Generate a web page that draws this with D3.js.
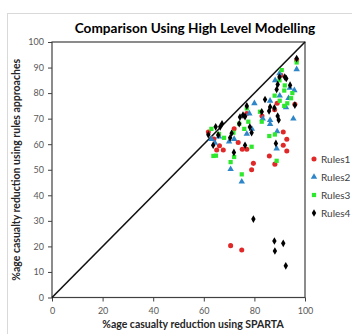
<!DOCTYPE html>
<html>
<head>
<meta charset="utf-8">
<script src="https://cdn.jsdelivr.net/npm/d3@7"></script>
<style>
  body { margin: 0; background: #fff; }
  svg { font-family: "Lato", "Open Sans", sans-serif; }
</style>
</head>
<body>
<div></div>
<script>
// values: [sparta %, rules %]
const rules1 = [
  [61.8, 64.8], [65.1, 57.7], [66.2, 59.4], [67.7, 57.7], [73.6, 60.7], [75.2, 58],
  [77, 58], [79.6, 52.5], [78.9, 50], [70.6, 20.3], [75, 18.6], [85.9, 55.4],
  [88.1, 52.2], [91.4, 64.8], [92.8, 61.9], [91.4, 59.6], [92.8, 57.3], [96, 75.6],
  [89, 76], [90.5, 87], [88, 73.5], [96.7, 93], [77, 72], [72, 66], [83, 71], [64, 62]
];
const rules2 = [
  [96.7, 89.3], [95.4, 70], [92.5, 74.4], [95.8, 81.1], [89.9, 87.7], [83.3, 70],
  [86.2, 69.4], [86.2, 67.9], [88.8, 58.3], [75, 45.3], [70.6, 50.2], [64.4, 60.5],
  [66, 63], [72, 62], [77, 64], [79, 66], [86.2, 77], [88.2, 85], [94, 82], [78, 72],
  [70, 61], [80, 76], [90, 79], [63, 62], [93.5, 78], [89, 65]
];
const rules3 = [
  [96.7, 92], [90.8, 89], [89.9, 85], [91.8, 81], [94.5, 78], [93, 76], [88, 79],
  [90, 77], [91.8, 75], [82.2, 72.7], [82.9, 68.8], [77.6, 68.8], [77, 74], [85.9, 63.2],
  [88.1, 63.8], [88.8, 53.5], [78.9, 59], [75, 48.2], [70.6, 53], [72, 55], [63.8, 55.4],
  [64.8, 55.5], [71.7, 64.5], [66, 64], [63, 66], [76, 66], [95, 80], [92, 83],
  [68, 62.5], [74, 68]
];
const rules4 = [
  [96.7, 93.5], [89.9, 86.3], [92, 86.3], [92.6, 85.7], [94.1, 83.1], [89.2, 83.4],
  [88.8, 81.4], [96, 75.3], [84.2, 77.5], [86.2, 74.6], [87.9, 74.2], [85.8, 73],
  [82.9, 72.7], [89.2, 71], [89.6, 69.5], [88.5, 60.3], [74.3, 70.6], [75.5, 71.4],
  [76.3, 70.8], [78.2, 66.7], [78.9, 64.5], [76.3, 59.6], [71.9, 56.8], [70.4, 62.5],
  [71, 64.3], [64.7, 66.8], [66.5, 66.8], [67.2, 68], [61.8, 63.7], [63.7, 59.6],
  [65.7, 63.6], [79.6, 30.7], [87.9, 22.1], [91.4, 21.2], [88.1, 18.2], [92.4, 12.4],
  [77, 75], [74, 68]
];
const seriesNames = ["Rules1", "Rules2", "Rules3", "Rules4"];
const seriesData = [rules1, rules2, rules3, rules4];
const xTicks = [0, 20, 40, 60, 80, 100];
const yTicks = [0, 10, 20, 30, 40, 50, 60, 70, 80, 90, 100];

const w = 352;
const h = 334;
const svg = d3.select("div").append("svg").attr("width", w).attr("height", h);

const colors = ["#e02828", "#2e86c8", "#2ee82e", "#000000"];
const shapes = [d3.symbolCircle, d3.symbolTriangle, d3.symbolSquare, d3.symbolDiamond];
const sizes = [20, 18, 18, 17];

// outer chart border
svg.append("rect")
  .attr("x", 7.5).attr("y", 13.5)
  .attr("width", 360).attr("height", 330)
  .attr("fill", "none").attr("stroke", "#d9d9d9");

const x = d3.scaleLinear().domain([0, 100]).range([52, 305]);
const y = d3.scaleLinear().domain([0, 100]).range([297.5, 42]);

svg.append("text")
  .attr("x", 195).attr("y", 33)
  .attr("text-anchor", "middle")
  .attr("font-weight", "bold")
  .attr("font-size", 13.6)
  .attr("fill", "#000")
  .text("Comparison Using High Level Modelling");

const xAxis = svg.append("g")
  .attr("transform", "translate(0," + y(0) + ")")
  .call(d3.axisBottom(x).tickValues(xTicks).tickSize(4).tickPadding(6));
const yAxis = svg.append("g")
  .attr("transform", "translate(" + x(0) + ",0)")
  .call(d3.axisLeft(y).tickValues(yTicks).tickSize(4).tickPadding(4));
[xAxis, yAxis].forEach((g) => {
  g.select(".domain").remove();
  g.selectAll("line").attr("stroke", "#404040");
  g.selectAll("text")
    .attr("fill", "#595959")
    .attr("font-size", 9)
    .attr("font-family", "Lato, 'Open Sans', sans-serif");
});

// plot area box
svg.append("rect")
  .attr("x", x(0)).attr("y", y(100))
  .attr("width", x(100) - x(0)).attr("height", y(0) - y(100))
  .attr("fill", "none").attr("stroke", "#404040").attr("stroke-width", 1.2);

// diagonal
svg.append("line")
  .attr("x1", x(0)).attr("y1", y(0))
  .attr("x2", x(100)).attr("y2", y(100))
  .attr("stroke", "#111").attr("stroke-width", 1.6);

seriesData.forEach((data, i) => {
  svg.append("g")
    .selectAll("path")
    .data(data)
    .enter()
    .append("path")
    .attr("transform", (d) => "translate(" + x(d[0]) + "," + y(d[1]) + ")")
    .attr("d", d3.symbol().type(shapes[i]).size(sizes[i]))
    .attr("fill", colors[i]);
});

// legend
const legend = svg.append("g")
  .selectAll("g")
  .data(seriesNames)
  .enter()
  .append("g")
  .attr("transform", (d, i) => "translate(314," + (159 + i * 18) + ")");
legend.append("path")
  .attr("d", (d, i) => d3.symbol().type(shapes[i]).size(sizes[i])())
  .attr("fill", (d, i) => colors[i]);
legend.append("text")
  .attr("x", 7).attr("y", 3.5)
  .attr("font-size", 10)
  .attr("fill", "#404040")
  .text((d) => d);

svg.append("text")
  .attr("x", 193).attr("y", 328)
  .attr("text-anchor", "middle")
  .attr("font-weight", "bold")
  .attr("font-size", 10.5)
  .attr("fill", "#262626")
  .text("%age casualty reduction using SPARTA");

svg.append("text")
  .attr("transform", "translate(20," + (y(50)) + ") rotate(-90)")
  .attr("text-anchor", "middle")
  .attr("font-weight", "bold")
  .attr("font-size", 10.5)
  .attr("fill", "#262626")
  .text("%age casualty reduction using rules approaches");
</script>
</body>
</html>
